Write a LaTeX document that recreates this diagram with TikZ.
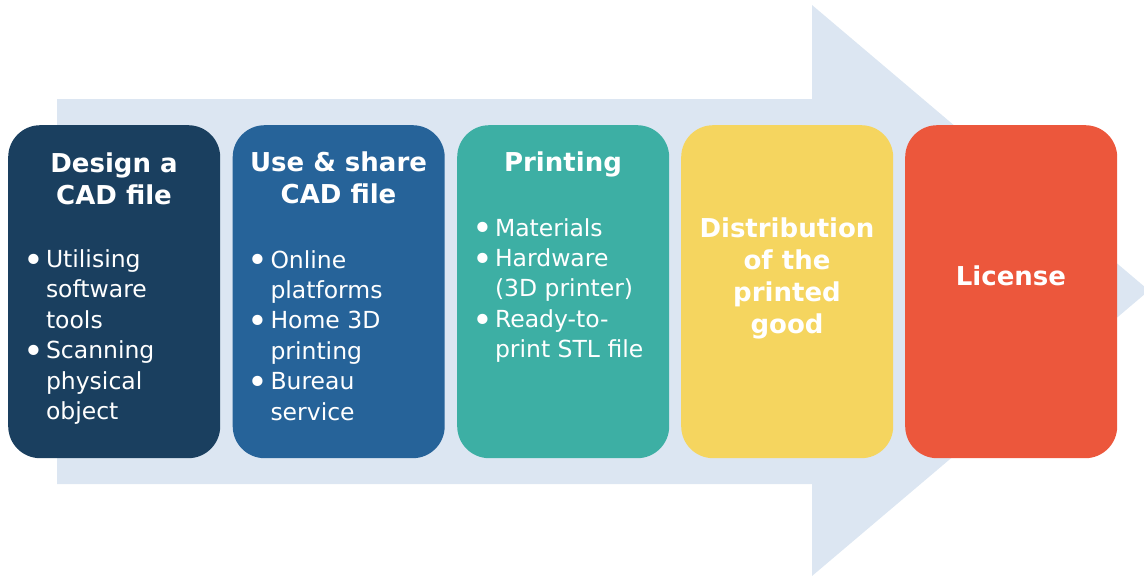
\documentclass[tikz,border=0pt]{standalone}
\usepackage{fontspec}
\setmainfont{DejaVu Sans}
\definecolor{arrowblue}{HTML}{DCE6F2}
\definecolor{cA}{HTML}{1A3F5F}
\definecolor{cB}{HTML}{266399}
\definecolor{cC}{HTML}{3DAFA4}
\definecolor{cD}{HTML}{F5D55F}
\definecolor{cE}{HTML}{EC573C}
\newcommand\bl{\makebox[22.8pt][l]{\smash{\raisebox{-4.8pt}{\scalebox{1.5}{•}}}}}
\begin{document}
\begin{tikzpicture}[x=1pt,y=-1pt,
  stage/.style={draw=none,rounded corners=32pt,minimum width=212pt,minimum height=333pt,anchor=north west,inner sep=0pt},
  stitle/.style={text=white,font=\fontsize{26}{32}\selectfont\bfseries,anchor=base,inner sep=0pt},
  sitems/.style={text=white,font=\fontsize{23.5}{30.4}\selectfont,anchor=base west,inner sep=0pt}]
\useasboundingbox (0,0) rectangle (1144,576);
\clip (0,0) rectangle (1144,576);
\fill[arrowblue] (57,99) -- (812,99) -- (812,5) -- (1149,290.5) -- (812,576) -- (812,484) -- (57,484) -- cycle;
\node[stage,fill=cA] (s1) at (8,125) {};
\node[stage,fill=cB] (s2) at (232.5,125) {};
\node[stage,fill=cC] (s3) at (457,125) {};
\node[stage,fill=cD] (s4) at (681,125) {};
\node[stage,fill=cE] (s5) at (905,125) {};
\node[stitle] (t1) at (114,172) {\begin{tabular}[t]{@{}c@{}}Design a\\CAD file\end{tabular}};
\node[stitle] (t2) at (338.5,171) {\begin{tabular}[t]{@{}c@{}}Use \& share\\CAD file\end{tabular}};
\node[stitle] (t3) at (563,171) {Printing};
\node[stitle] (t4) at (787,237) {\begin{tabular}[t]{@{}c@{}}Distribution\\of the\\printed\\good\end{tabular}};
\node[stitle] (t5) at (1011,285) {License};
\node[sitems] (l1) at (23,267.5) {\begin{tabular}[t]{@{}l@{}l@{}}\bl&Utilising\\&software\\&tools\\\bl&Scanning\\&physical\\&object\end{tabular}};
\node[sitems] (l2) at (247.5,268) {\begin{tabular}[t]{@{}l@{}l@{}}\bl&Online\\&platforms\\\bl&Home 3D\\&printing\\\bl&Bureau\\&service\end{tabular}};
\node[sitems] (l3) at (472,236) {\begin{tabular}[t]{@{}l@{}l@{}}\bl&Materials\\\bl&Hardware\\&(3D printer)\\\bl&Ready-to-\\&print STL file\end{tabular}};
\end{tikzpicture}
\end{document}
